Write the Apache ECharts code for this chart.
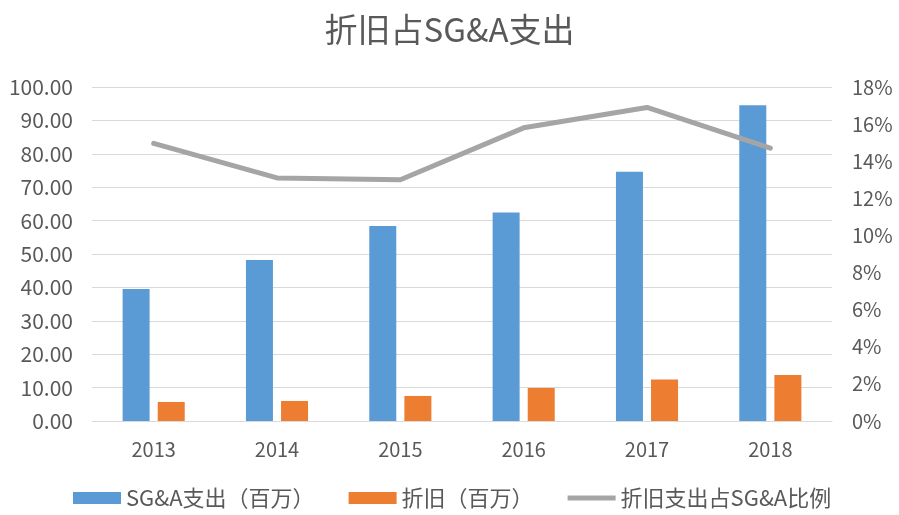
<!DOCTYPE html>
<html>
<head>
<meta charset="utf-8">
<script src="https://cdn.jsdelivr.net/npm/echarts@6/dist/echarts.min.js"></script>
<style>
  html, body { margin: 0; padding: 0; background: #fff; }
  #main { width: 899px; height: 515px; }
</style>
</head>
<body>
<div id="main"></div>
<script>
// 数据
var years = ['2013', '2014', '2015', '2016', '2017', '2018'];
var sgaSpend = [39.5, 48.2, 58.4, 62.4, 74.6, 94.5];
var depreciation = [5.7, 6.0, 7.5, 9.9, 12.4, 13.8];
var depRatio = [14.96, 13.1, 13.0, 15.8, 16.9, 14.7];

var chart = echarts.init(document.getElementById('main'));

var textColor = '#595959';
var font = '"Noto Sans CJK SC", "Noto Sans", sans-serif';

var option = {
    backgroundColor: '#fff',
    title: {
        text: '折旧占SG&A支出',
        left: 'center',
        top: 8,
        textStyle: {
            color: textColor,
            fontSize: 33,
            fontWeight: 'normal',
            fontFamily: font
        }
    },
    legend: {
        bottom: 1,
        left: 68,
        itemGap: 34,
        itemWidth: 48,
        itemHeight: 12,
        textStyle: { color: textColor, fontSize: 22, fontFamily: font },
        data: [
            { name: 'SG&A支出（百万）', icon: 'rect' },
            { name: '折旧（百万）', icon: 'rect' },
            // 只画一条线，不要圆点
            { name: '折旧支出占SG&A比例', icon: 'path://M0,0 M0,3.5 L48,3.5 L48,8.5 L0,8.5 Z M48,12',
              itemStyle: { color: '#A5A5A5' } }
        ]
    },
    grid: {
        left: 92,
        right: 67,
        top: 87,
        bottom: 94
    },
    xAxis: {
        type: 'category',
        data: years,
        axisLine: { lineStyle: { color: '#d9d9d9' } },
        axisTick: { show: false },
        axisLabel: { color: textColor, fontSize: 20, margin: 18, fontFamily: font }
    },
    yAxis: [{
        type: 'value',
        min: 0,
        max: 100,
        interval: 10,
        axisLine: { show: false },
        axisTick: { show: false },
        splitLine: { lineStyle: { color: '#d9d9d9' } },
        axisLabel: {
            color: textColor,
            fontSize: 21,
            margin: 19,
            fontFamily: font,
            formatter: function (v) { return v.toFixed(2); }
        }
    }, {
        type: 'value',
        min: 0,
        max: 18,
        interval: 2,
        axisLine: { show: false },
        axisTick: { show: false },
        splitLine: { show: false },
        axisLabel: {
            color: textColor,
            fontSize: 20,
            margin: 20,
            fontFamily: font,
            formatter: '{value}%'
        }
    }],
    series: [{
        name: 'SG&A支出（百万）',
        type: 'bar',
        data: sgaSpend,
        barWidth: 27,
        barGap: '30%',
        itemStyle: { color: '#5B9BD5' }
    }, {
        name: '折旧（百万）',
        type: 'bar',
        data: depreciation,
        barWidth: 27,
        itemStyle: { color: '#ED7D31' }
    }, {
        name: '折旧支出占SG&A比例',
        type: 'line',
        yAxisIndex: 1,
        data: depRatio,
        showSymbol: false,
        symbol: 'none',
        lineStyle: { color: '#A5A5A5', width: 5, cap: 'round', join: 'round' },
        itemStyle: { color: '#A5A5A5' }
    }]
};

chart.setOption(option);
</script>
</body>
</html>
